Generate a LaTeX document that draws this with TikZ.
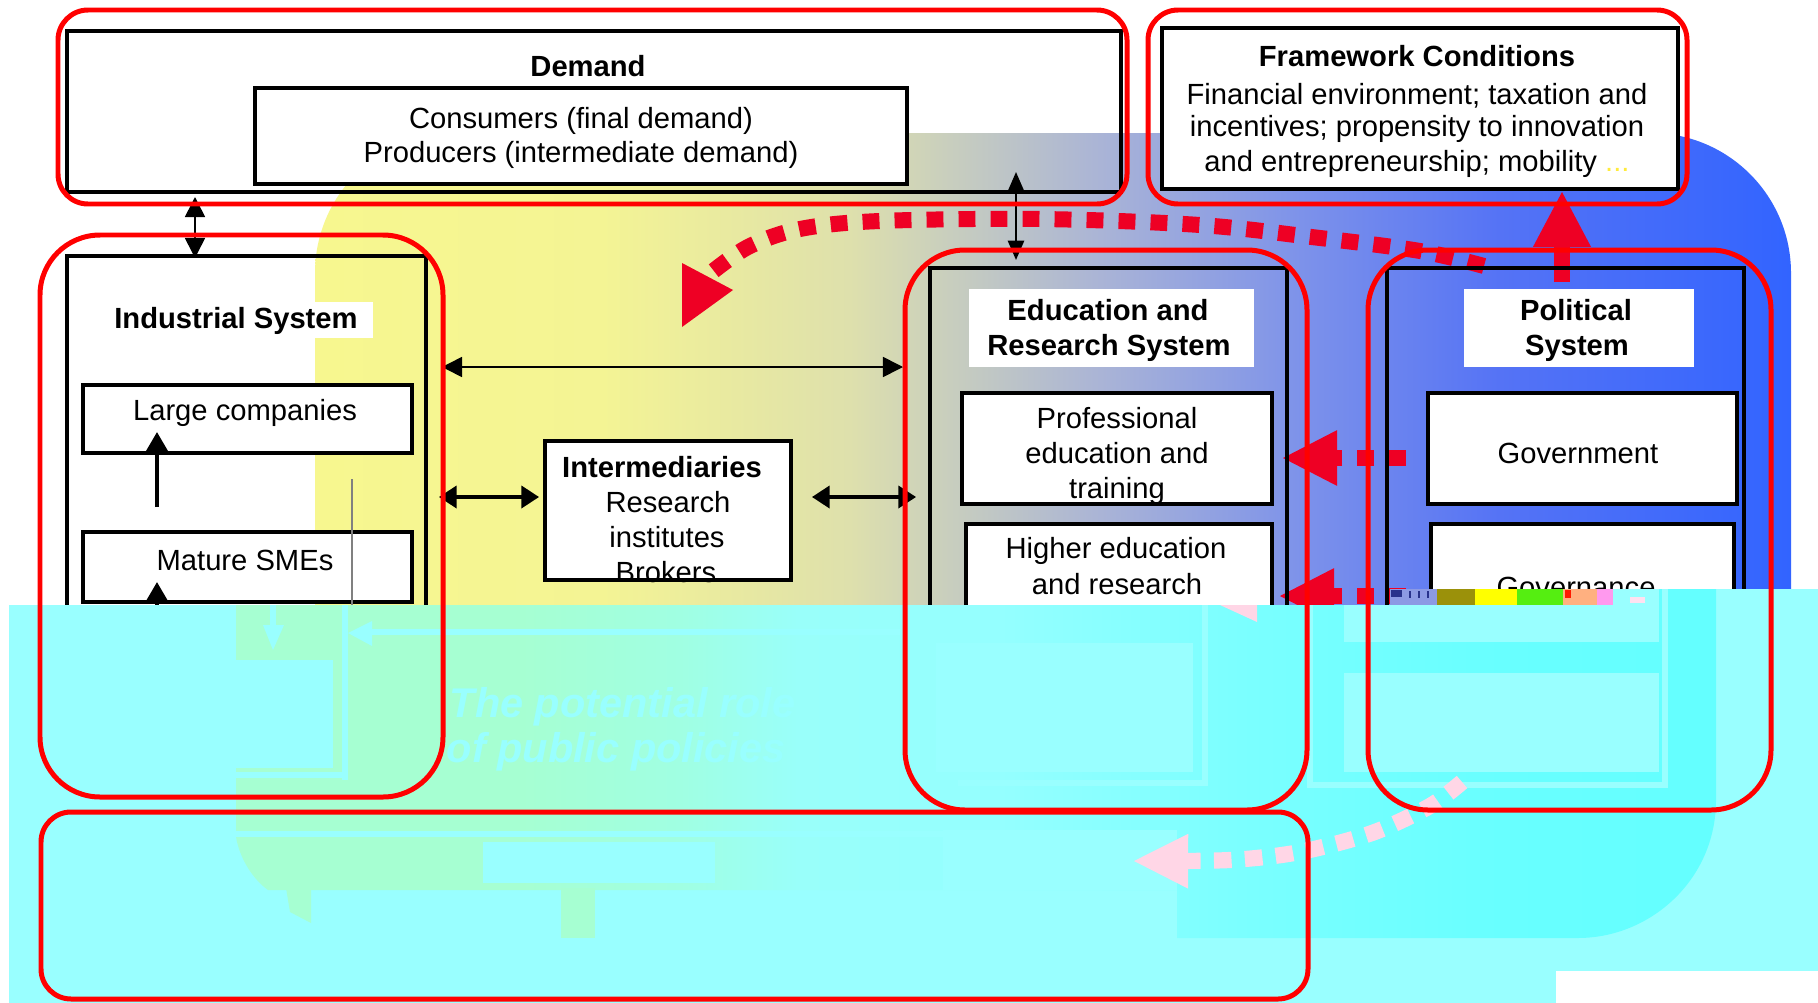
\documentclass[tikz,border=0pt]{standalone}
\usepackage{fontspec}
\setmainfont{Liberation Sans}
\usetikzlibrary{arrows.meta,fit}

% outline and flow colours
\definecolor{annot}{RGB}{255,0,0}
\definecolor{flow}{RGB}{238,0,36}
\definecolor{dotyellow}{RGB}{255,235,60}
% background band, yellow to blue
\definecolor{bgA}{RGB}{247,247,143}
\definecolor{bgB}{RGB}{244,244,148}
\definecolor{bgC}{RGB}{222,224,172}
\definecolor{bgD}{RGB}{200,206,190}
\definecolor{bgE}{RGB}{170,180,214}
\definecolor{bgF}{RGB}{125,146,234}
\definecolor{bgG}{RGB}{85,115,245}
\definecolor{bgH}{RGB}{50,100,255}
% lower cyan layer
\definecolor{cyanbase}{RGB}{153,255,255}
\definecolor{ghA}{RGB}{166,255,210}
\definecolor{ghB}{RGB}{160,255,226}
\definecolor{ghC}{RGB}{153,255,250}
\definecolor{ghD}{RGB}{148,255,255}
\definecolor{ghE}{RGB}{122,255,255}
\definecolor{ghF}{RGB}{104,255,255}
\definecolor{ghG}{RGB}{100,255,255}
\definecolor{ghpink}{RGB}{255,214,230}
% stripe colours
\definecolor{stA}{RGB}{140,154,228}
\definecolor{stNavy}{RGB}{40,50,140}
\definecolor{stB}{RGB}{155,145,10}
\definecolor{stC}{RGB}{255,255,0}
\definecolor{stD}{RGB}{85,238,17}
\definecolor{stE}{RGB}{255,176,128}
\definecolor{stF}{RGB}{255,153,238}
\definecolor{stG}{RGB}{255,225,240}

\pgfdeclarehorizontalshading{bgshade}{100bp}{color(0bp)=(bgA); color(25bp)=(bgA); color(34.7bp)=(bgB); color(43.1bp)=(bgC); color(46.5bp)=(bgD); color(51.6bp)=(bgE); color(58.4bp)=(bgF); color(65.1bp)=(bgG); color(75bp)=(bgH); color(100bp)=(bgH)}
\pgfdeclarehorizontalshading{ghostshade}{100bp}{color(0bp)=(ghA); color(25bp)=(ghA); color(34.6bp)=(ghA); color(40bp)=(ghB); color(44bp)=(ghC); color(50.8bp)=(ghD); color(59.3bp)=(ghE); color(67.7bp)=(ghF); color(75bp)=(ghG); color(100bp)=(ghG)}

\begin{document}
\begin{tikzpicture}[x=0.01cm,y=-0.01cm,
  blackbox/.style={draw=black, line width=1.2pt, inner sep=0pt},
  whitebox/.style={blackbox, fill=white},
  labelfill/.style={fill=white, inner sep=0pt},
  txt/.style={anchor=base, inner sep=0pt, font=\fontsize{8.3pt}{10pt}\selectfont},
  btxt/.style={anchor=base, inner sep=0pt, font=\fontsize{8.3pt}{10pt}\selectfont\bfseries},
  ring/.style={draw=annot, line width=1.42pt, inner sep=0pt},
  flowdash/.style={draw=flow, line width=4.55pt, dash pattern=on 4.8pt off 4.3pt},
  bigtip/.style={arrows={-Triangle[length=15.4pt,width=15.9pt,line width=0pt]}},
  thinarr/.style={draw=black, line width=0.45pt, arrows={Triangle[length=5.7pt,width=5.7pt]-Triangle[length=5.7pt,width=5.7pt]}},
  narrowarr/.style={draw=black, line width=0.6pt, arrows={Triangle[length=5.5pt,width=4.6pt]-Triangle[length=5.5pt,width=4.6pt]}},
  thickarr/.style={draw=black, line width=0.9pt, arrows={Triangle[length=5pt,width=6.3pt]-Triangle[length=5pt,width=6.3pt]}},
  uparr/.style={draw=black, line width=1.1pt, arrows={-Triangle[length=5.7pt,width=6.3pt]}},
  ghostline/.style={draw=cyanbase, line width=1.6pt}
]
\useasboundingbox (0,0) rectangle (1818,1003);
\fill[white] (0,0) rectangle (1818,1003);

% demand panel fill, under the coloured band
\node[labelfill, fit={(67,31) (1121,192)}] (demand) {};

% coloured band behind the systems
\shade[shading=bgshade, rounded corners=1.4cm] (315,960) -- (315,133) -- (1791,133) -- (1791,960) -- cycle;

% policy flows (red)
\draw[flowdash]
  plot[smooth, tension=0.55] coordinates {(1484,266) (1420,251) (1320,238) (1200,225) (1040,219) (880,221) (800,229) (748,247) (707,276)};
\coordinate (arcTip) at (682,327);
\fill[flow] (682,263) -- (733,290) -- (arcTip) -- cycle;
\coordinate (upS) at (1562,282);
\coordinate (upT) at (1562,192);
\draw[draw=flow, line width=4.55pt, arrows={-Triangle[length=15.6pt,width=16.5pt,line width=0pt]}] (upS) -- (upT);
\coordinate (gpS) at (1406,458);
\coordinate (gpT) at (1283,458);
\draw[flowdash, bigtip] (gpS) -- (gpT);
\coordinate (ghS) at (1406,596);
\coordinate (ghT) at (1280,596);
\draw[flowdash, bigtip] (ghS) -- (ghT);

% demand
\node[blackbox, fit={(67,31) (1121,192)}] (demandbox) {};
\node[whitebox, fit={(255,88) (907,184)}] (needs) {};
\node[btxt] (demT) at (588,76) {Demand};
\node[txt] (conT) at (581,128) {Consumers (final demand)};
\node[txt] (proT) at (581,162) {Producers (intermediate demand)};

% framework conditions
\node[whitebox, fit={(1162,28) (1678,189)}] (frame) {};
\node[btxt] (fcT) at (1417,67) {Framework Conditions};
\node[txt] (fc1) at (1417,104) {Financial environment; taxation and};
\node[txt] (fc2) at (1417,136) {incentives; propensity to innovation};
\node[txt] (fc3) at (1417,171) {and entrepreneurship; mobility \textcolor{dotyellow}{...}};

% industrial system
\node[blackbox, fit={(67,256) (426,680)}] (indus) {};
\node[labelfill, fit={(100,302) (373,338)}] (induslbl) {};
\node[btxt] (indT) at (236,328) {Industrial System};
\node[whitebox, fit={(83,385) (412,453)}] (large) {};
\node[txt] (largeT) at (245,420) {Large companies};
\node[whitebox, fit={(83,532) (412,602)}] (smes) {};
\node[txt] (smesT) at (245,570) {Mature SMEs};
\coordinate (upA1) at (157,507);
\coordinate (upA2) at (157,432);
\draw[uparr] (upA1) -- (upA2);
\coordinate (upB1) at (157,650);
\coordinate (upB2) at (157,582);
\draw[uparr] (upB1) -- (upB2);
\coordinate (gl1) at (352,479);
\coordinate (gl2) at (352,605);
\draw[gray, line width=0.35pt] (gl1) -- (gl2);

% intermediaries
\node[whitebox, fit={(545,441) (791,580)}] (inter) {};
\node[btxt] (intT) at (662,477) {Intermediaries};
\node[txt] (int1) at (668,512) {Research};
\node[txt] (int2) at (667,547) {institutes};
\node[txt] (int3) at (666,582) {Brokers};

% education and research system
\node[blackbox, fit={(930,268) (1287,690)}] (edu) {};
\node[labelfill, fit={(969,289) (1254,367)}] (edulbl) {};
\node[btxt] (edu1) at (1108,320) {Education and};
\node[btxt] (edu2) at (1109,355) {Research System};
\node[whitebox, fit={(962,393) (1272,504)}] (prof) {};
\node[txt] (pe1) at (1117,428) {Professional};
\node[txt] (pe2) at (1117,463) {education and};
\node[txt] (pe3) at (1117,498) {training};
\node[whitebox, fit={(966,524) (1272,680)}] (higher) {};
\node[txt] (he1) at (1116,558) {Higher education};
\node[txt] (he2) at (1117,594) {and research};

% political system
\node[blackbox, fit={(1387,268) (1744,690)}] (pol) {};
\node[labelfill, fit={(1464,289) (1694,367)}] (pollbl) {};
\node[btxt] (pol1) at (1576,320) {Political};
\node[btxt] (pol2) at (1577,355) {System};
\node[whitebox, fit={(1428,393) (1737,504)}] (gov) {};
\node[txt] (govT) at (1578,463) {Government};
\node[whitebox, fit={(1431,524) (1734,680)}] (govn) {};
\node[txt] (govnT) at (1576,597) {Governance};

% black links
\coordinate (l1a) at (195,197);
\coordinate (l1b) at (195,258);
\draw[thinarr] (l1a) -- (l1b);
\coordinate (l2a) at (1016,172);
\coordinate (l2b) at (1016,260);
\draw[narrowarr] (l2a) -- (l2b);
\coordinate (l3a) at (442,367);
\coordinate (l3b) at (903,367);
\draw[thinarr] (l3a) -- (l3b);
\coordinate (l4a) at (439,497);
\coordinate (l4b) at (539,497);
\draw[thickarr] (l4a) -- (l4b);
\coordinate (l5a) at (812,497);
\coordinate (l5b) at (916,497);
\draw[thickarr] (l5a) -- (l5b);

% lower cyan layer
\fill[cyanbase] (9,605) -- (1613,605) -- (1613,589) -- (1818,589) -- (1818,1003) -- (9,1003) -- cycle;
\begin{scope}
  \clip (9,605) -- (1613,605) -- (1613,589) -- (1818,589) -- (1818,1003) -- (9,1003) -- cycle;
  \shade[shading=ghostshade] (236,589) -- (236,837) .. controls (240,860) and (254,880) .. (268,890)
     -- (1177,890) -- (1177,938) -- (1578,938) .. controls (1650,938) and (1716,880) .. (1716,800)
     -- (1716,589) -- cycle;
  \fill[ghA] (286,888) -- (311,888) -- (311,923) -- (290,912) -- cycle;
  \fill[ghA] (561,888) rectangle (595,938);
  % faint frames and boxes
  \fill[cyanbase] (236,660) rectangle (333,768);
  \draw[ghostline] (345,600) -- (345,780);
  \draw[ghostline] (236,775) -- (347,775);
  \draw[ghostline] (273,600) -- (273,628);
  \fill[cyanbase] (263,625) -- (284,625) -- (273,650) -- cycle;
  \draw[draw=cyanbase, line width=1.8pt] (368,632) -- (900,632);
  \fill[cyanbase] (348,633) -- (372,621) -- (372,646) -- cycle;
  \draw[draw=cyanbase, line width=1.8pt] (236,834) -- (1000,834);
  \fill[cyanbase] (483,842) rectangle (715,883);
  \node[anchor=base west, inner sep=0pt, text=cyanbase, font=\fontsize{11.8pt}{12.8pt}\selectfont\bfseries\itshape] (ghostA) at (449,717) {The potential role};
  \node[anchor=base west, inner sep=0pt, text=cyanbase, font=\fontsize{11.8pt}{12.8pt}\selectfont\bfseries\itshape] (ghostB) at (446,762) {of public policies};
  \fill[cyanbase] (936,643) rectangle (1193,772);
  \draw[ghostline] (1205,580) -- (1205,783) -- (958,783);
  \draw[ghostline] (1310,560) rectangle (1665,785);
  \fill[cyanbase] (1344,580) rectangle (1659,642);
  \fill[cyanbase] (1344,673) rectangle (1659,772);
  \fill[cyanbase] (943,830) rectangle (1177,890);
  \fill[ghpink] (1220,605) -- (1257,605) -- (1257,622) -- cycle;
  \draw[draw=ghpink, line width=4.6pt, dash pattern=on 5pt off 3.8pt,
        arrows={-Triangle[length=15.4pt,width=15.6pt,line width=0pt]}]
    plot[smooth, tension=0.5] coordinates {(1462,782) (1430,806) (1372,833) (1300,852) (1230,860) (1134,861)};
\end{scope}

% coloured stripe at the layer edge
\fill[stA] (1390,589) rectangle (1437,605);
\fill[stNavy] (1391,590) rectangle (1402,597);
\fill[stNavy] (1409,591) rectangle (1411,598);
\fill[stNavy] (1418,591) rectangle (1420,598);
\fill[stNavy] (1427,591) rectangle (1429,598);
\fill[stB] (1437,589) rectangle (1475,605);
\fill[stC] (1475,589) rectangle (1517,605);
\fill[stD] (1517,589) rectangle (1563,605);
\fill[stE] (1563,589) rectangle (1597,605);
\fill[red!80!orange] (1565,590) rectangle (1571,598);
\fill[stF] (1597,589) rectangle (1613,605);
\fill[stG] (1630,597) rectangle (1645,603);

% red outlines
\node[ring, rounded corners=0.3cm, fit={(58,10) (1127,204)}] (rDemand) {};
\node[ring, rounded corners=0.3cm, fit={(1148,10) (1687,204)}] (rFrame) {};
\node[ring, rounded corners=0.6cm, fit={(40,235) (443,797)}] (rIndus) {};
\node[ring, rounded corners=0.6cm, fit={(905,250) (1307,810)}] (rEdu) {};
\node[ring, rounded corners=0.6cm, fit={(1368,250) (1771,810)}] (rPol) {};
\node[ring, rounded corners=0.3cm, fit={(41,812) (1308,999)}] (rBottom) {};

\fill[white] (1556,971) rectangle (1818,1003);
\end{tikzpicture}
\end{document}
